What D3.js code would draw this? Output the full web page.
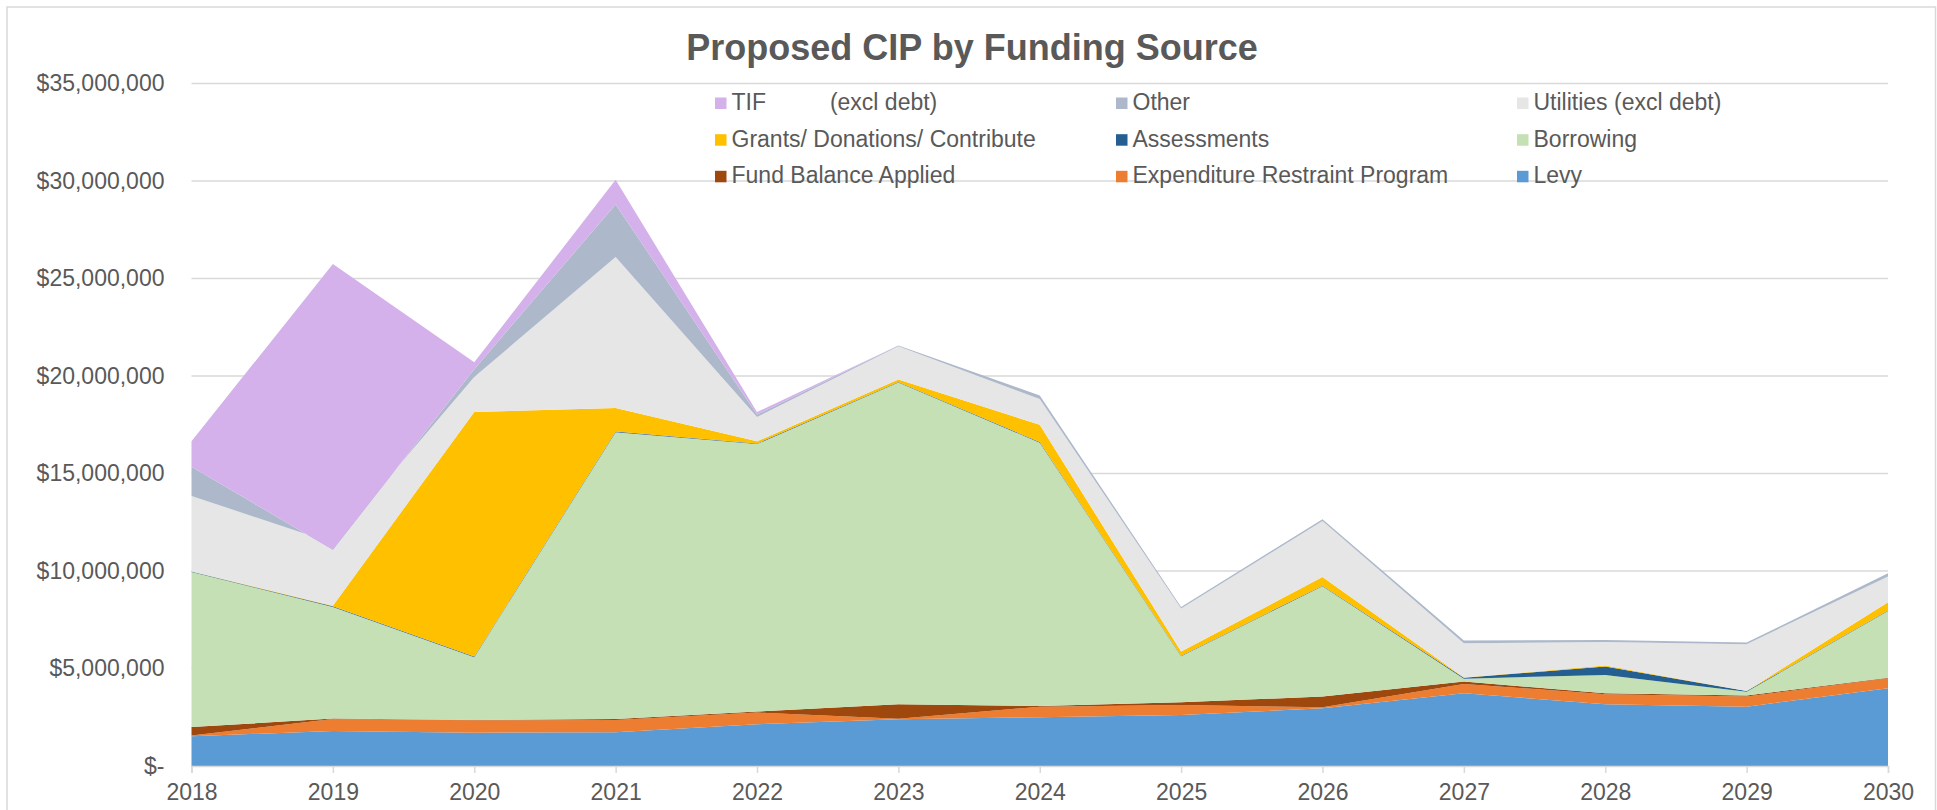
<!DOCTYPE html>
<html>
<head>
<meta charset="utf-8">
<script src="https://cdn.jsdelivr.net/npm/d3@7"></script>
<style>
  html, body { margin: 0; padding: 0; background: #fff; }
  svg { display: block; font-family: "Liberation Sans", Arial, sans-serif; }
</style>
</head>
<body>
<svg id="chart" width="1937" height="810"></svg>
<script>
// ---- Data (in dollars) ----
const years = ["2018","2019","2020","2021","2022","2023","2024","2025","2026","2027","2028","2029","2030"];

const levy        = [1520000,1800000,1710000,1730000,2140000,2400000,2500000,2620000,2960000,3730000,3170000,3040000,3990000];
const erp         = [  50000, 610000, 630000, 630000, 600000,  20000, 540000, 510000,  50000, 480000, 510000, 520000, 510000];
const fundBalance = [ 430000,  20000,  20000,  50000,  50000, 750000,  40000, 140000, 550000, 120000,  50000,  50000,  30000];
const borrowing   = [7950000,5730000,3220000,14710000,13720000,16500000,13500000,2360000,5660000,150000,940000,200000,3420000];
const assessments = [  20000,  30000,  30000,  40000,  30000,  20000,  30000,  30000,  30000,  50000, 430000,  30000,  30000];
const grants      = [  10000,  30000,12550000,1200000, 110000, 130000, 890000, 210000, 440000,  10000,  50000,  10000, 420000];
const utilities   = [3870000,3210000,1790000,7740000,1250000,1700000,1320000,2210000,2870000,1760000,1210000,2400000,1320000];
const other       = [1500000,-340000, 400000,2700000, 120000,  50000, 180000,  80000, 100000, 130000, 100000,  80000, 170000];
const tif         = [1300000,14660000,350000,1260000, 130000,      0,      0,      0,      0,      0,      0,      0,      0];

const seriesNames  = ["Levy","Expenditure Restraint Program","Fund Balance Applied","Borrowing","Assessments",
                      "Grants/ Donations/ Contribute","Utilities (excl debt)","Other","TIF          (excl debt)"];
const seriesValues = [levy, erp, fundBalance, borrowing, assessments, grants, utilities, other, tif];
const seriesColors = ["#5B9BD5","#ED7D31","#9E480E","#C5E0B4","#255E91","#FFC000","#E6E6E6","#ADB9CA","#D4B1EA"];

// legend order (rows left-to-right, as in reference)
const legendOrder = [8, 7, 6, 5, 4, 3, 2, 1, 0];

const yTicks = [0, 5000000, 10000000, 15000000, 20000000, 25000000, 30000000, 35000000];
const titleText = "Proposed CIP by Funding Source";

// ---- Build table ----
const keys = seriesNames.map((d, i) => "s" + i);
const table = years.map((yr, i) => {
  const row = { year: yr };
  seriesValues.forEach((arr, j) => row[keys[j]] = arr[i]);
  return row;
});

const svg = d3.select("#chart");
const plotL = 191.5, plotR = 1888, plotT = 83.5, plotB = 766;

const x = d3.scalePoint().domain(years).range([plotL, plotR]);
const y = d3.scaleLinear().domain([0, 35000000]).range([plotB, plotT]);

// chart frame
svg.append("rect")
  .attr("x", 7).attr("y", 7).attr("width", 1928.5).attr("height", 850)
  .attr("fill", "#fff").attr("stroke", "#D9D9D9").attr("stroke-width", 1.5);

// gridlines
svg.append("g").selectAll("line").data(yTicks.filter(d => d > 0)).join("line")
  .attr("x1", plotL).attr("x2", plotR)
  .attr("y1", d => y(d)).attr("y2", d => y(d))
  .attr("stroke", "#D9D9D9").attr("stroke-width", 1.5);

// stacked areas
const stack = d3.stack().keys(keys).order(d3.stackOrderNone).offset(d3.stackOffsetNone);
const stacked = stack(table);
const area = d3.area()
  .x(d => x(d.data.year))
  .y0(d => y(d[0]))
  .y1(d => y(d[1]));

svg.append("g").selectAll("path").data(stacked).join("path")
  .attr("d", area)
  .attr("fill", (d, i) => seriesColors[i]);

// x axis
const xAxis = d3.axisBottom(x).tickSize(7).tickPadding(11);
const gx = svg.append("g").attr("transform", `translate(0,${plotB})`).call(xAxis);
gx.select(".domain").attr("stroke", "#D9D9D9").attr("stroke-width", 1.5);
gx.selectAll(".tick line").attr("stroke", "#D9D9D9").attr("stroke-width", 1.5);
gx.selectAll(".tick text")
  .attr("fill", "#595959").attr("font-size", "23px")
  .attr("font-family", "Liberation Sans, Arial, sans-serif");

// y axis labels
const fmt = d3.format("$,");
const yAxis = d3.axisLeft(y).tickValues(yTicks).tickSize(0).tickPadding(27)
  .tickFormat(d => d === 0 ? "$-" : fmt(d));
const gy = svg.append("g").attr("transform", `translate(${plotL},0)`).call(yAxis);
gy.select(".domain").remove();
gy.selectAll(".tick text")
  .attr("fill", "#595959").attr("font-size", "23px")
  .attr("font-family", "Liberation Sans, Arial, sans-serif");

// title
svg.append("text")
  .attr("x", 972).attr("y", 60)
  .attr("text-anchor", "middle")
  .attr("font-size", "36px").attr("font-weight", "bold")
  .attr("fill", "#595959")
  .text(titleText);

// legend
const colX = [715, 1116, 1517];
const rowY = [110, 146.7, 183.3];
const lg = svg.append("g").selectAll("g").data(legendOrder).join("g")
  .attr("transform", (d, i) => `translate(${colX[i % 3]},${rowY[Math.floor(i / 3)]})`);
lg.append("rect")
  .attr("x", 0).attr("y", -12.5).attr("width", 11.5).attr("height", 11.5)
  .attr("fill", d => seriesColors[d]);
lg.append("text")
  .attr("x", 16.5).attr("y", 0)
  .attr("font-size", "23px").attr("fill", "#595959")
  .style("white-space", "pre")
  .text(d => seriesNames[d]);
</script>
</body>
</html>
